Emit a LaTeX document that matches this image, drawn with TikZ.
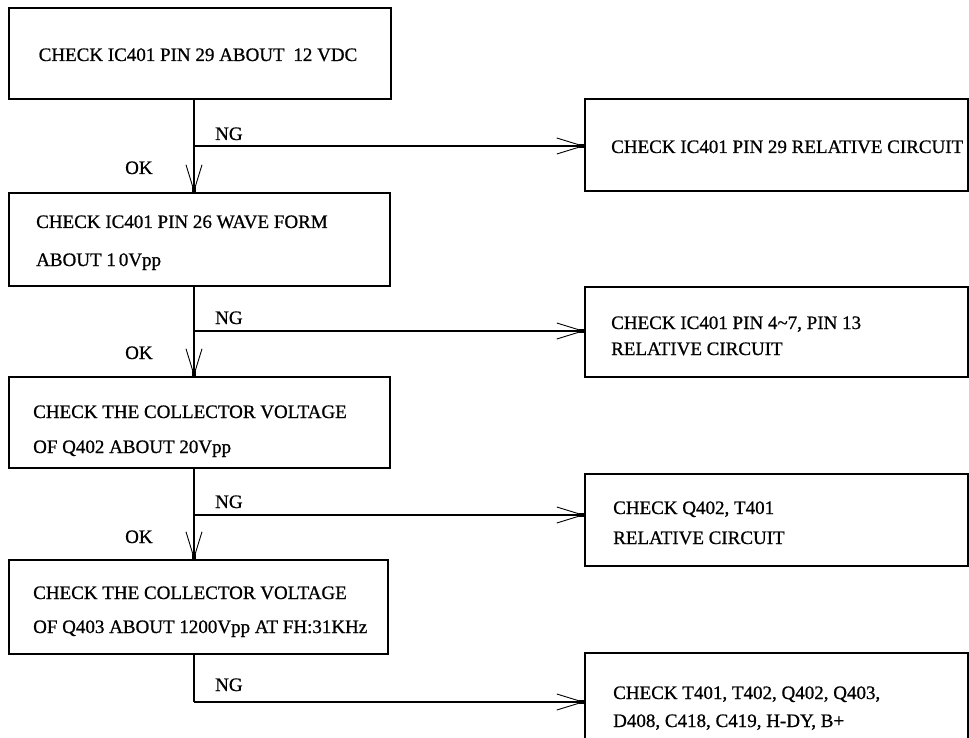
\documentclass[tikz,border=0pt]{standalone}
\usepackage{fontspec}
\setmainfont{Liberation Serif}[FakeBold=0.8]
\usetikzlibrary{arrows.meta}
\begin{document}
\begin{tikzpicture}[x=1pt,y=-1pt,
  box/.style={draw, line width=1.3pt, rectangle, inner sep=0pt},
  txt/.style={anchor=base west, inner sep=0pt, font=\fontsize{19}{19}\selectfont},
  flow/.style={line width=1.3pt},
  arr/.style={flow, -{Straight Barb[length=26pt,width=16pt,line width=0.9pt]},
    postaction={draw, line width=1.3pt, -{Rectangle[length=5pt,width=3.4pt]}}}
]
\clip (0,0) rectangle (969,738);

% check steps (left column)
\node[box, minimum width=382pt, minimum height=91pt] (b1) at (200,53.5) {};
\node[box, minimum width=381pt, minimum height=93pt] (b2) at (199.5,239.5) {};
\node[box, minimum width=381pt, minimum height=91pt] (b3) at (199.5,422.5) {};
\node[box, minimum width=379pt, minimum height=94pt] (b4) at (198.5,607) {};

% repair actions (right column)
\node[box, minimum width=383pt, minimum height=92pt] (r1) at (776.5,145) {};
\node[box, minimum width=383pt, minimum height=90pt] (r2) at (776.5,332) {};
\node[box, minimum width=383pt, minimum height=92pt] (r3) at (776.5,520) {};
\node[box, minimum width=383pt, minimum height=127pt] (r4) at (776.5,716.5) {};

% texts of the steps
\node[txt, anchor=base] (b1t) at (198,61) {CHECK IC401 PIN 29 ABOUT\hspace{4pt} 12 VDC};
\node[txt] (b2t1) at (36,228) {CHECK IC401 PIN 26 WAVE FORM};
\node[txt] (b2t2) at (36,266) {ABOUT 1\hspace{3pt}0Vpp};
\node[txt] (b3t1) at (33,418) {CHECK THE COLLECTOR VOLTAGE};
\node[txt] (b3t2) at (33,453) {OF Q402 ABOUT 20Vpp};
\node[txt] (b4t1) at (33,599) {CHECK THE COLLECTOR VOLTAGE};
\node[txt] (b4t2) at (33,633) {OF Q403 ABOUT 1200Vpp AT FH:31KHz};

\node[txt] (r1t) at (611,153) {CHECK IC401 PIN 29 RELATIVE CIRCUIT};
\node[txt] (r2t1) at (611,329) {CHECK IC401 PIN 4\textasciitilde 7, PIN 13};
\node[txt] (r2t2) at (611,355) {RELATIVE CIRCUIT};
\node[txt] (r3t1) at (613,514) {CHECK Q402, T401};
\node[txt] (r3t2) at (613,544) {RELATIVE CIRCUIT};
\node[txt] (r4t1) at (613,699) {CHECK T401, T402, Q402, Q403,};
\node[txt] (r4t2) at (613,727) {D408, C418, C419, H-DY, B+};

% branch points on the main trunk
\coordinate (j1) at (194,146);
\coordinate (j2) at (194,331);
\coordinate (j3) at (194,515);
\coordinate (j4) at (194,702);

% OK path down the trunk
\draw[flow] (j1 |- b1.south) -- (j1);
\draw[arr] (j1) -- (j1 |- b2.north);
\draw[flow] (j2 |- b2.south) -- (j2);
\draw[arr] (j2) -- (j2 |- b3.north);
\draw[flow] (j3 |- b3.south) -- (j3);
\draw[arr] (j3) -- (j3 |- b4.north);
\draw[flow] (j4 |- b4.south) -- (j4);

% NG branches
\draw[arr] (j1) -- (j1 -| r1.west);
\draw[arr] (j2) -- (j2 -| r2.west);
\draw[arr] (j3) -- (j3 -| r3.west);
\draw[arr] (j4) -- (j4 -| r4.west);

% branch labels
\node[txt] (ng1) at (215,140) {NG};
\node[txt] (ng2) at (215,324) {NG};
\node[txt] (ng3) at (215,508) {NG};
\node[txt] (ng4) at (215,691) {NG};
\node[txt] (ok1) at (125,174) {OK};
\node[txt] (ok2) at (125,359) {OK};
\node[txt] (ok3) at (125,543) {OK};
\end{tikzpicture}
\end{document}
